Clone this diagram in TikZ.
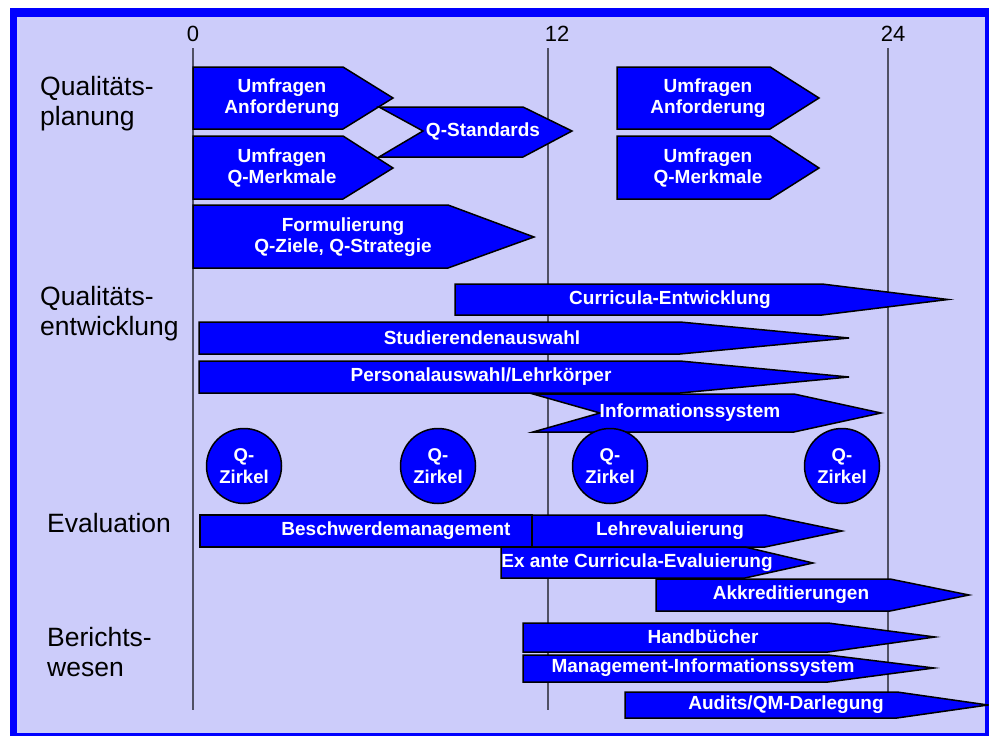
\documentclass[tikz,border=0pt]{standalone}
\usepackage{fontspec}
\setmainfont{Liberation Sans}
\definecolor{lav}{RGB}{204,204,250}
\definecolor{qblue}{RGB}{0,0,255}
\definecolor{axisgray}{RGB}{80,80,100}
\tikzset{
  bar/.style={fill=qblue, draw=black, line width=1.5pt, line join=miter},
  zirkel/.style={circle, fill=qblue, draw=black, line width=1.5pt, minimum size=75pt, inner sep=0pt,
    text=white, font=\bfseries\fontsize{18.5}{22}\selectfont, align=center},
  btxt/.style={text=white, font=\bfseries\fontsize{19}{21}\selectfont, align=center, inner sep=0pt},
  rowlbl/.style={anchor=west, font=\fontsize{26.5}{30}\selectfont, align=left, inner sep=0pt},
  axlbl/.style={font=\fontsize{22}{24}\selectfont, inner sep=0pt},
  tick/.style={draw=axisgray, line width=1.2pt}
}
\begin{document}
\begin{tikzpicture}[x=1pt,y=-1pt]
\useasboundingbox (0,0) rectangle (989,736);
% frame
\fill[white] (0,0) rectangle (989,736);
\fill[qblue] (10,8) rectangle (989,736);
\fill[lav] (17,17) rectangle (985,733);
% time axis
\node[axlbl] (t0) at (193,34) {0};
\node[axlbl] (t12) at (557,34) {12};
\node[axlbl] (t24) at (893,34) {24};
\coordinate (l0a) at (193,48); \coordinate (l0b) at (193,710);
\coordinate (l12a) at (548,48); \coordinate (l12b) at (548,710);
\coordinate (l24a) at (888,48); \coordinate (l24b) at (888,710);
\draw[tick] (l0a) -- (l0b);
\draw[tick] (l12a) -- (l12b);
\draw[tick] (l24a) -- (l24b);
% row labels
\node[rowlbl] (rq) at (40,104) {Qualitäts-\\planung};
\node[rowlbl] (re) at (40,314) {Qualitäts-\\entwicklung};
\node[rowlbl] (rev) at (47,523) {Evaluation};
\node[rowlbl] (rb) at (47,652) {Berichts-\\wesen};
% Qualitaetsplanung
\draw[bar] (193,67) -- (343,67) -- (393,98) -- (343,129) -- (193,129) -- cycle;
\node[btxt] (ua1) at (282,98) {Umfragen\\Anforderung};
\draw[bar] (193,136) -- (343,136) -- (393,168) -- (343,199) -- (193,199) -- cycle;
\node[btxt] (uq1) at (282,168) {Umfragen\\Q-Merkmale};
\draw[bar] (379,107) -- (523,107) -- (572,131) -- (523,157) -- (379,157) -- (423,131) -- cycle;
\node[btxt] (qs) at (483,131) {Q-Standards};
\draw[bar] (617,67) -- (770,67) -- (819,98) -- (770,129) -- (617,129) -- cycle;
\node[btxt] (ua2) at (708,98) {Umfragen\\Anforderung};
\draw[bar] (617,136) -- (770,136) -- (819,168) -- (770,199) -- (617,199) -- cycle;
\node[btxt] (uq2) at (708,168) {Umfragen\\Q-Merkmale};
\draw[bar] (193,205) -- (448,205) -- (534,237) -- (448,268) -- (193,268) -- cycle;
\node[btxt] (form) at (343,237) {Formulierung\\Q-Ziele, Q-Strategie};
% Qualitaetsentwicklung
\draw[bar] (455,284) -- (822,284) -- (948,299.5) -- (822,315) -- (455,315) -- cycle;
\node[btxt] (curr) at (670,299.5) {Curricula-Entwicklung};
\draw[bar] (199,322) -- (680,322) -- (849,338) -- (680,354) -- (199,354) -- cycle;
\node[btxt] (stud) at (482,338) {Studierendenauswahl};
\draw[bar] (199,361) -- (680,361) -- (849,377) -- (680,393) -- (199,393) -- cycle;
\node[btxt] (pers) at (481,377) {Personalauswahl/Lehrkörper};
\draw[bar] (533,394) -- (794,394) -- (881,413) -- (794,432) -- (533,432) -- (600,413) -- cycle;
\node[btxt] (info) at (690,413) {Informationssystem};
\node[zirkel] (z1) at (244,466) {Q-\\Zirkel};
\node[zirkel] (z2) at (438,466) {Q-\\Zirkel};
\node[zirkel] (z3) at (610,466) {Q-\\Zirkel};
\node[zirkel] (z4) at (842,466) {Q-\\Zirkel};
% Evaluation
\draw[bar] (200,515) rectangle (532,547);
\node[btxt] (besch) at (396,531) {Beschwerdemanagement};
\draw[bar] (532,515) -- (765,515) -- (842,531) -- (765,547) -- (532,547) -- cycle;
\node[btxt] (lehre) at (670,531) {Lehrevaluierung};
\draw[bar] (501,547) -- (745,547) -- (813,563) -- (745,578) -- (501,578) -- cycle;
\node[btxt] (exante) at (637,563) {Ex ante Curricula-Evaluierung};
\draw[bar] (656,579) -- (890,579) -- (969,595) -- (890,611) -- (656,611) -- cycle;
\node[btxt] (akk) at (791,595) {Akkreditierungen};
% Berichtswesen
\draw[bar] (523,623) -- (828,623) -- (935,637) -- (828,652) -- (523,652) -- cycle;
\node[btxt] (hand) at (703,637) {Handbücher};
\draw[bar] (523,655) -- (828,655) -- (934,668) -- (828,682) -- (523,682) -- cycle;
\node[btxt] (mis) at (703,668) {Management-Informationssystem};
\draw[bar] (625,692) -- (897,692) -- (988,705) -- (897,718) -- (625,718) -- cycle;
\node[btxt] (aud) at (786,705) {Audits/QM-Darlegung};
\end{tikzpicture}
\end{document}
